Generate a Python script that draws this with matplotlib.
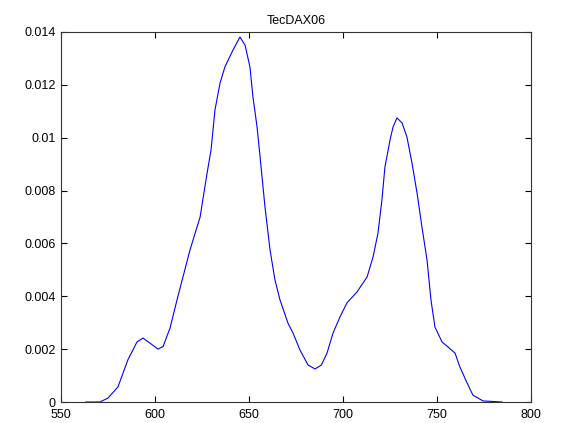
import matplotlib
matplotlib.use("Agg")
import matplotlib.pyplot as plt
from matplotlib.ticker import FuncFormatter

# valores (x, densidad)
xs = [563.3, 570.7, 575.0, 580.3, 585.6, 590.4, 593.6, 597.3, 601.6, 604.3,
      608.0, 611.7, 618.6, 624.0, 627.7, 629.8, 631.9, 634.6, 637.2, 641.5,
      645.2, 647.9, 650.5, 652.1, 654.3, 655.9, 658.5, 661.2, 663.8, 666.5,
      670.7, 673.4, 677.1, 681.4, 685.1, 688.5, 691.5, 694.7, 698.4, 702.1,
      707.4, 712.8, 716.0, 718.6, 720.7, 722.3, 725.0, 726.6, 728.7, 731.4,
      734.0, 736.7, 739.4, 742.0, 744.7, 746.8, 748.9, 752.7, 755.9, 759.6,
      762.2, 766.0, 769.1, 774.5, 784.6]
ys = [0.0, 0.0, 0.00015, 0.00057, 0.0016, 0.00227, 0.00242, 0.00223, 0.0020, 0.0021,
      0.0028, 0.00386, 0.00575, 0.0070, 0.00866, 0.00953, 0.01105, 0.01207, 0.01268, 0.01332,
      0.01381, 0.0135, 0.01268, 0.01154, 0.0104, 0.00927, 0.00738, 0.00575, 0.00462, 0.00386,
      0.00299, 0.00261, 0.00197, 0.0014, 0.00125, 0.0014, 0.00185, 0.00261, 0.00322, 0.00375,
      0.00416, 0.00473, 0.00549, 0.00639, 0.00764, 0.00889, 0.00991, 0.0104, 0.01075, 0.01056,
      0.01003, 0.00904, 0.0079, 0.00662, 0.00537, 0.00386, 0.00284, 0.00227, 0.00208, 0.00185,
      0.00132, 0.00072, 0.00026, 0.00004, 0.0]

xticks = [550, 600, 650, 700, 750, 800]
yticks = [0, 0.002, 0.004, 0.006, 0.008, 0.01, 0.012, 0.014]

plt.rcParams['font.family'] = ['Liberation Sans', 'DejaVu Sans']

fig = plt.figure(figsize=(5.61, 4.23), dpi=100)
ax = fig.add_axes([61/561, 21/423, 470/561, 370/423])
ax.plot(xs, ys, color="blue", linewidth=0.8)

ax.set_xlim(550, 800)
ax.set_ylim(0, 0.014)
ax.set_xticks(xticks)
ax.set_yticks(yticks)
ax.yaxis.set_major_formatter(FuncFormatter(lambda v, p: "%g" % round(v, 4)))
ax.tick_params(direction="in", top=True, right=True, labelsize=9, length=4, width=0.8)
ax.tick_params(axis="x", pad=5)
ax.tick_params(axis="y", pad=4)
for s in ax.spines.values():
    s.set_color("#333333")
    s.set_linewidth(0.8)
ax.set_title("TecDAX06", fontsize=9)

fig.savefig("out.png", dpi=100)
